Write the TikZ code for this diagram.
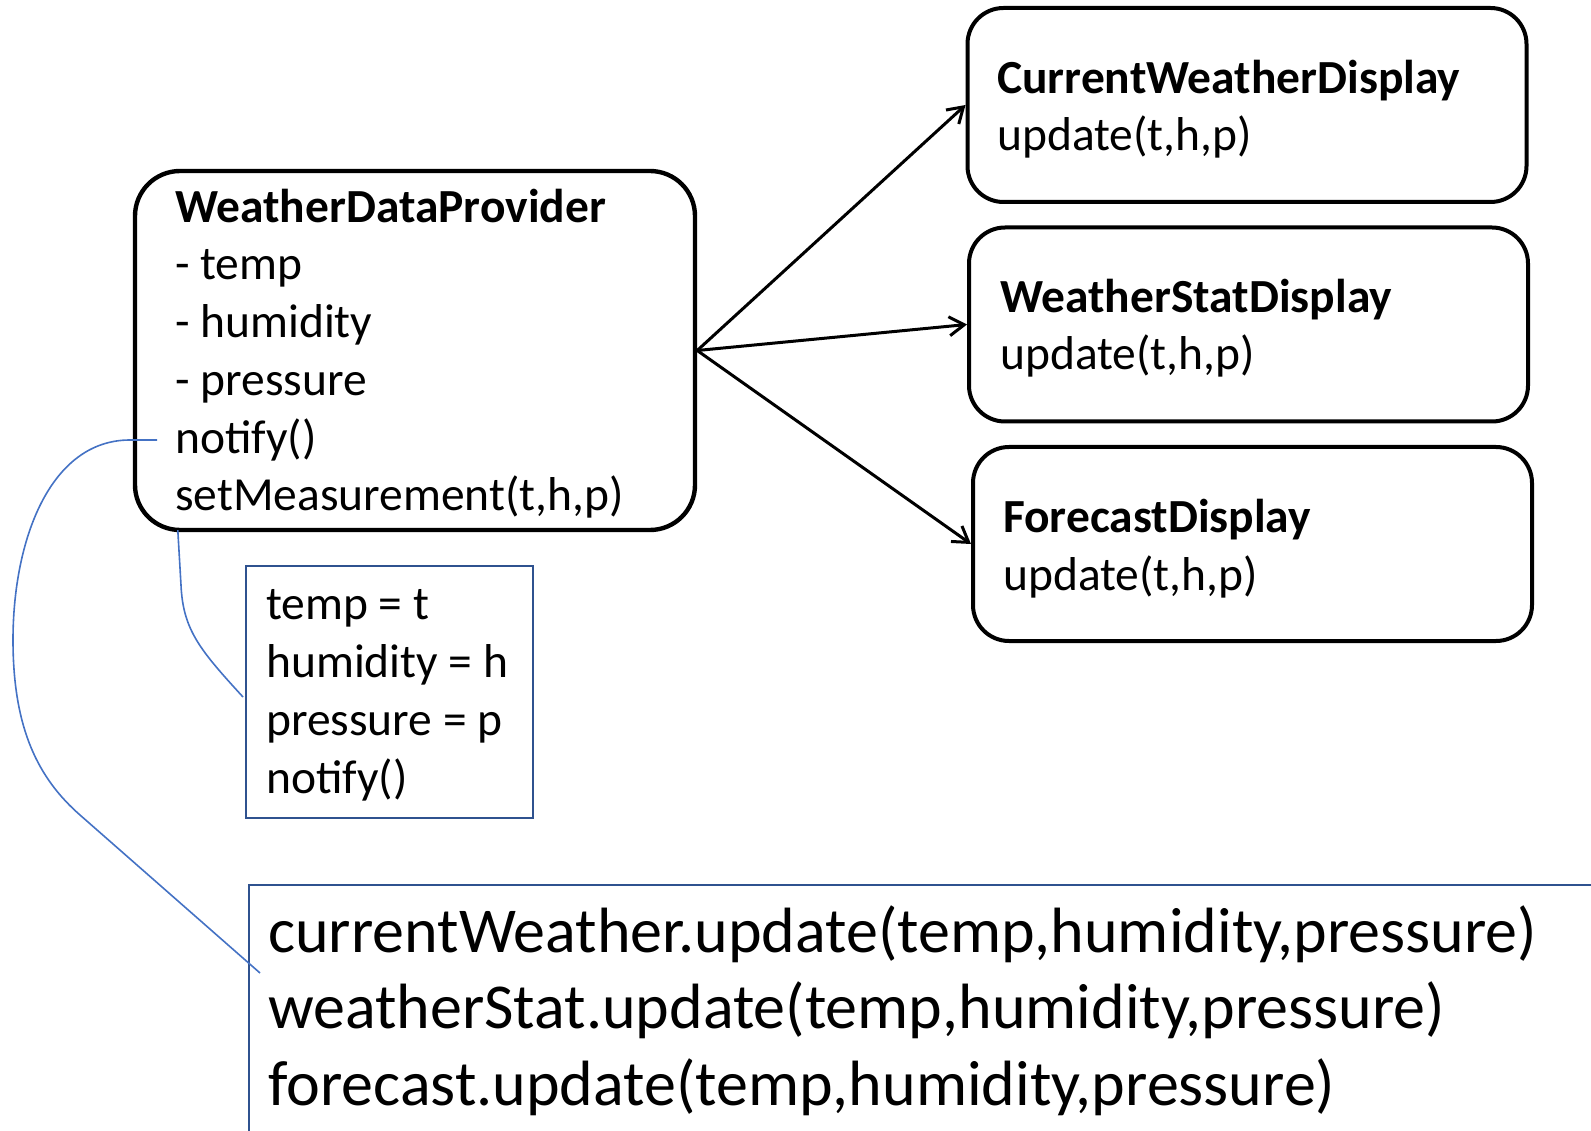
\documentclass[tikz,border=0pt]{standalone}
\usepackage{fontspec}
\setmainfont{Carlito}
\usetikzlibrary{arrows.meta,calc}
\definecolor{calloutline}{HTML}{4472C4}
\definecolor{noteborder}{HTML}{2F528F}
\begin{document}
\begin{tikzpicture}[x=1pt,y=-1pt,
  classbox/.style={draw, line width=4.4pt, rounded corners=45pt, inner sep=0pt},
  dispbox/.style={draw, line width=4pt, rounded corners=36pt, inner sep=0pt,
    minimum width=559pt, minimum height=194pt},
  notebox/.style={draw=noteborder, line width=2pt, inner sep=0pt},
  % multi-line texts are placed by the baseline of their last line
  classtxt/.style={anchor=base west, align=left, inner sep=0pt,
    font=\fontsize{47.5}{57.8}\selectfont},
  bigtxt/.style={anchor=base west, align=left, inner sep=0pt,
    font=\fontsize{64}{76.5}\selectfont},
  assoc/.style={line width=3pt, -{Straight Barb[length=15pt,width=19pt,line width=3pt]}},
  callout/.style={draw=calloutline, line width=1.6pt}]
\useasboundingbox (0,0) rectangle (1591,1131);
\clip (0,0) rectangle (1591,1131);

% subject class
\node[classbox, minimum width=560pt, minimum height=359pt] (wdp) at (415,350.5) {};
\node[classtxt] (wdptxt) at (175,511)
  {\textbf{WeatherDataProvider}\\- temp\\- humidity\\- pressure\\notify()\\setMeasurement(t,h,p)};

% observer classes
\node[dispbox] (cwd) at (1247,105) {};
\node[classtxt] (cwdtxt) at (997,151) {\textbf{CurrentWeatherDisplay}\\update(t,h,p)};
\node[dispbox] (wsd) at (1248.5,324.5) {};
\node[classtxt] (wsdtxt) at (1000,370) {\textbf{WeatherStatDisplay}\\update(t,h,p)};
\node[dispbox] (fcd) at (1252.5,544) {};
\node[classtxt] (fcdtxt) at (1003,590) {\textbf{ForecastDisplay}\\update(t,h,p)};

% associations
\draw[assoc] (wdp.east) -- (cwd.west);
\draw[assoc] (wdp.east) -- (wsd.west);
\draw[assoc] (wdp.east) -- (fcd.west);

% note: body of setMeasurement
\node[notebox, minimum width=287pt, minimum height=252pt] (setnote) at (389.5,692) {};
\node[classtxt] (setnotetxt) at (266,793) {temp = t\\humidity = h\\pressure = p\\notify()};

% note: body of notify
\node[notebox, anchor=north west, minimum width=1400pt, minimum height=300pt] (notifynote) at (248,884) {};
\node[bigtxt] (notifynotetxt) at (268,1105)
  {currentWeather.update(temp,humidity,pressure)\\weatherStat.update(temp,humidity,pressure)\\forecast.update(temp,humidity,pressure)};

% callout lines
\coordinate (notifyref) at (157,440);
\draw[callout] (notifyref) -- (130,440) .. controls (50,440) and (13,540) .. (13,640)
  .. controls (13,730) and (39,779) .. (80,815) -- ($(notifynote.north west)+(12,89)$);
\draw[callout] ($(wdp.south west)+(45,-2)$) -- (181,585)
  .. controls (183,630) and (200,650) .. ($(setnote.west)+(-2,5)$);
\end{tikzpicture}
\end{document}
